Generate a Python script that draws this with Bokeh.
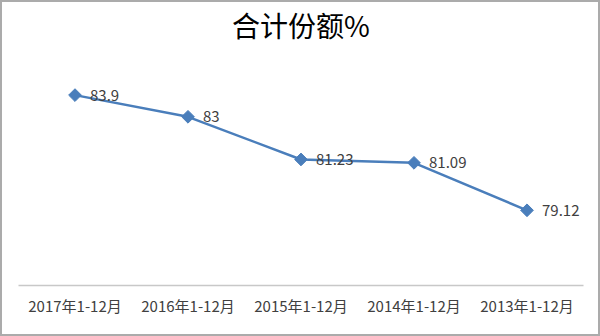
from bokeh.plotting import figure
from bokeh.models import Range1d, Title, FactorRange
from bokeh.core.properties import value
from bokeh.embed import file_html
from bokeh.resources import INLINE

categories = ["2017年1-12月", "2016年1-12月", "2015年1-12月", "2014年1-12月", "2013年1-12月"]
shares = [83.9, 83, 81.23, 81.09, 79.12]
labels = ["83.9", "83", "81.23", "81.09", "79.12"]

color = "#4a7ebb"
font = "Noto Sans CJK SC"

p = figure(width=600, height=336, x_range=FactorRange(*categories, range_padding=0),
           y_range=Range1d(76, 86), output_backend="svg", toolbar_location=None,
           min_border_left=16, min_border_right=19, min_border_top=40, min_border_bottom=53)
p.x_range.factor_padding = 0
p.outline_line_color = None
p.background_fill_color = "white"
p.border_fill_color = "white"
p.xgrid.visible = False
p.ygrid.visible = False
p.yaxis.visible = False
p.styles = {"border": "2px solid #ababab", "box-sizing": "border-box"}

ax = p.xaxis[0]
ax.axis_line_color = "#c8c8c8"
ax.axis_line_width = 1.5
ax.major_tick_line_color = None
ax.minor_tick_line_color = None
ax.major_label_text_font = font
ax.major_label_text_font_size = "15px"
ax.major_label_text_color = "#404040"
ax.major_label_standoff = 3

p.line(categories, shares, line_color=color, line_width=2.5)
p.scatter(categories, shares, marker="square", angle=0.785398, size=9, fill_color=color, line_color=color)
p.text(categories, shares, text=labels, x_offset=15, text_baseline="middle", text_align="left",
       text_font=value(font), text_font_size="15px", text_color="#404040")

t = Title(text="合计份额%", align="center", text_font=font, text_font_size="28px",
          text_font_style="normal", text_color="#000000", standoff=0, text_line_height=0.9)
p.add_layout(t, "above")

open("out.html", "w").write(file_html(p, INLINE))
